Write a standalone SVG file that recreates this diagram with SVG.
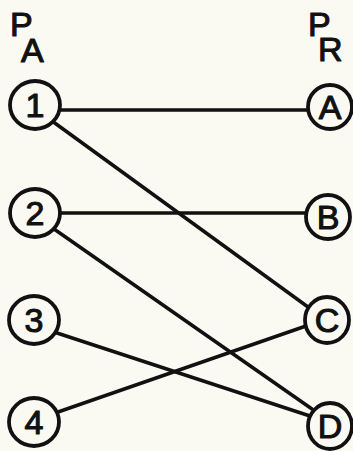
<svg xmlns="http://www.w3.org/2000/svg" width="353" height="451" viewBox="0 0 353 451">
  <style>
    .edge { stroke: #111; stroke-width: 3.5; stroke-linecap: round; fill: none; }
    .ring { stroke: #111; stroke-width: 3.8; fill: #fafaf3; }
    .lbl, .head { font-family: "Liberation Sans", Arial, sans-serif; font-size: 34px; fill: #111; stroke: #111; stroke-width: 1.1; stroke-linejoin: round; }
    .lbl { text-anchor: middle; }
  </style>
  <rect width="353" height="451" fill="#fafaf3"/>

  <!-- set headings: P with subscript letter -->
  <g id="heading-PA">
    <text class="head" x="10" y="36">P</text>
    <text class="head" x="21" y="62">A</text>
  </g>
  <g id="heading-PR">
    <text class="head" x="308" y="36">P</text>
    <text class="head" x="318" y="61">R</text>
  </g>

  <!-- pairings -->
  <g id="connectors">
    <line class="edge" x1="59" y1="110" x2="308" y2="110"/>
    <line class="edge" x1="52" y1="121" x2="308" y2="307"/>
    <line class="edge" x1="59" y1="213" x2="306" y2="213"/>
    <line class="edge" x1="54" y1="229" x2="312" y2="409"/>
    <line class="edge" x1="57" y1="333" x2="310" y2="416"/>
    <line class="edge" x1="58" y1="412" x2="306" y2="326"/>
  </g>

  <!-- left column -->
  <g id="n1">
    <ellipse class="ring" cx="35" cy="105" rx="25" ry="24"/>
    <text class="lbl" x="35" y="117">1</text>
  </g>
  <g id="n2">
    <ellipse class="ring" cx="35" cy="213" rx="25" ry="24"/>
    <text class="lbl" x="35" y="225">2</text>
  </g>
  <g id="n3">
    <ellipse class="ring" cx="34" cy="320" rx="25" ry="24"/>
    <text class="lbl" x="34" y="332">3</text>
  </g>
  <g id="n4">
    <ellipse class="ring" cx="34" cy="422" rx="25" ry="24"/>
    <text class="lbl" x="34" y="434">4</text>
  </g>

  <!-- right column -->
  <g id="nA">
    <ellipse class="ring" cx="330" cy="107" rx="22" ry="22"/>
    <text class="lbl" x="330" y="119">A</text>
  </g>
  <g id="nB">
    <ellipse class="ring" cx="328" cy="217" rx="22" ry="22"/>
    <text class="lbl" x="328" y="229">B</text>
  </g>
  <g id="nC">
    <ellipse class="ring" cx="327" cy="320" rx="22" ry="23"/>
    <text class="lbl" x="327" y="332">C</text>
  </g>
  <g id="nD">
    <ellipse class="ring" cx="330" cy="426" rx="22" ry="23"/>
    <text class="lbl" x="330" y="438">D</text>
  </g>
</svg>
